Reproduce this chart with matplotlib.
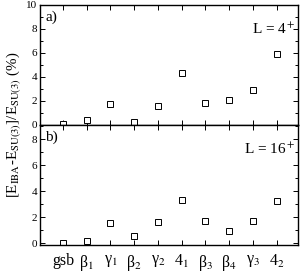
import matplotlib
matplotlib.use("Agg")
import matplotlib.pyplot as plt
from matplotlib.ticker import MultipleLocator, FixedLocator

plt.rcParams['font.family'] = ['Liberation Serif', 'DejaVu Serif']
plt.rcParams['mathtext.fontset'] = 'stix'

categories = ['gsb', 'β$_1$', 'γ$_1$', 'β$_2$', 'γ$_2$',
              '4$_1$', 'β$_3$', 'β$_4$', 'γ$_3$', '4$_2$']
dev_L4 = [0.05, 0.45, 1.72, 0.22, 1.6, 4.36, 1.8, 2.08, 2.94, 5.89]
dev_L16 = [0.05, 0.2, 1.56, 0.55, 1.64, 3.3, 1.7, 0.92, 1.74, 3.23]

fig = plt.figure(figsize=(3.03, 2.73), dpi=100)
W, H = 303, 273
left, right = 40 / W, 298 / W
ax1 = fig.add_axes([left, 1 - 125 / H, right - left, 120 / H])
ax2 = fig.add_axes([left, 1 - 244.5 / H, right - left, 119.5 / H])

xpos = list(range(1, len(categories) + 1))

for ax, vals, ylim, tag, lab in [
        (ax1, dev_L4, (0, 10), 'a)', r'L = 4$^+$'),
        (ax2, dev_L16, (-0.1, 9.1), 'b)', r'L = 16$^+$')]:
    ax.plot(xpos, vals, linestyle='none', marker='s', markersize=4.2,
            markerfacecolor='white', markeredgecolor='black', markeredgewidth=0.7)
    ax.set_xlim(0.03, 10.9)
    ax.set_ylim(*ylim)
    ax.xaxis.set_major_locator(FixedLocator(xpos))
    ax.yaxis.set_major_locator(MultipleLocator(2))
    ax.yaxis.set_minor_locator(MultipleLocator(1))
    ax.tick_params(which='both', direction='in', top=True, right=True,
                   labelsize=8, width=0.7, pad=2)
    ax.tick_params(which='major', length=3.5)
    ax.tick_params(which='minor', length=2)
    for s in ax.spines.values():
        s.set_linewidth(1.0)
    ax.text(0.02, 0.95, tag, transform=ax.transAxes, fontsize=11,
            ha='left', va='top')
    ax.text(0.99, 0.86, lab, transform=ax.transAxes, fontsize=11,
            ha='right', va='top')

ax1.set_xticklabels([])
ax2.set_xticks(xpos)
ax2.set_xticklabels(categories, fontsize=11.5)
ax2.tick_params(axis='x', pad=6)

fig.text(0.045, 1 - 125 / H,
         r'[E$_{\mathrm{IBA}}$-E$_{\mathrm{SU(3)}}$]/E$_{\mathrm{SU(3)}}$ (%)',
         rotation=90, ha='center', va='center', fontsize=10.8)

fig.savefig('out.png', dpi=100)
